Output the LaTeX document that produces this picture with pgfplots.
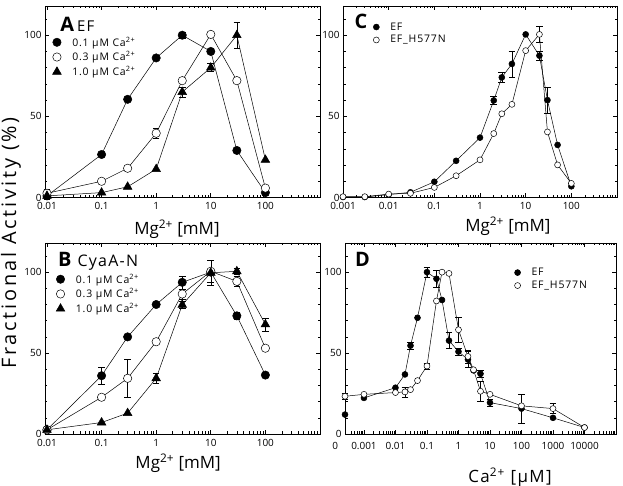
\documentclass[border=0pt]{standalone}
\usepackage{pgfplots}
\pgfplotsset{compat=1.18}
\usepackage{fontspec}
\setmainfont{Open Sans}
\newfontfamily\lsfont[LetterSpace=8]{Open Sans}
\newfontfamily\lswfont[LetterSpace=14]{Open Sans}

\pgfplotsset{
  every axis/.append style={
    scale only axis,
    ymin=0, ymax=118,
    ytick={0,50,100},
    minor ytick={10,20,30,40,60,70,80,90,110},
    tick align=inside,
    major tick length=4bp, minor tick length=2.5bp,
    axis line style={line width=0.9pt},
    tick style={black, line width=0.6pt},
    /pgf/number format/assume math mode=true,
    tick label style={font=\fontsize{10}{11}\selectfont},
    xticklabel style={yshift=-1.5bp},
    clip=false,
    legend cell align=left,
    legend style={draw=none, fill=none, inner sep=0pt, row sep=0bp, column sep=9bp,
      font=\lsfont\fontsize{10.5}{11}\selectfont},
  },
  myser/.style={black, line width=0.5pt, mark size=4.2bp},
  myfc/.style={myser, mark=*},
  myoc/.style={myser, mark=*, mark options={fill=white}},
  mytr/.style={myser, mark=triangle*, mark size=5bp},
  mysfc/.style={myser, mark=*, mark size=3bp},
  mysoc/.style={myser, mark=*, mark size=3bp, mark options={fill=white}},
  myeb/.style={black, only marks, mark=none, forget plot,
    error bars/.cd, y dir=both, y explicit,
    error bar style={line width=0.5pt},
    error mark options={rotate=90, mark size=3.3bp, line width=0.5pt}},
}

\begin{document}
\begin{tikzpicture}
\useasboundingbox (0bp,0bp) rectangle (623bp,486bp);

\node[rotate=90, font=\lswfont\fontsize{20}{20}\selectfont] at (11bp,243bp) {Fractional Activity (\%)};

% ---------------- Panel A ----------------
\begin{axis}[xmode=log, at={(45bp,288.5bp)}, anchor=south west,
  width=275bp, height=191.5bp, xmin=0.0092, xmax=1000,
  xtick={0.01,0.1,1,10,100,1000}, xticklabels={0.01,0.1,1,10,100,{}},
  minor xtick={0.02,0.03,0.04,0.05,0.06,0.07,0.08,0.09,
      0.2,0.3,0.4,0.5,0.6,0.7,0.8,0.9,2,3,4,5,6,7,8,9,
      20,30,40,50,60,70,80,90,200,300,400,500,600,700,800,900},
  legend style={at={(0.027,0.85)}, anchor=north west}]
\addlegendimage{myfc, only marks}\addlegendentry{0.1 µM Ca\textsuperscript{2+}}
\addlegendimage{myoc, only marks}\addlegendentry{0.3 µM Ca\textsuperscript{2+}}
\addlegendimage{mytr, only marks}\addlegendentry{1.0 µM Ca\textsuperscript{2+}}
\addplot[myeb] coordinates {(3,100) +- (0,2) (1,39.6) +- (0,3) (3,65) +- (0,3) (10,80) +- (0,2.5) (30,100) +- (0,8) (0.01,2) +- (0,3)};
\addplot[myfc, forget plot] coordinates {(0.01,1) (0.1,26.5) (0.3,60.5) (1,86) (3,100) (10,90) (30,29) (100,3)};
\addplot[myoc, forget plot] coordinates {(0.01,2.6) (0.1,10) (0.3,18) (1,39.6) (3,72) (10,100.5) (30,72) (100,5.8)};
\addplot[mytr, forget plot] coordinates {(0.01,1) (0.1,3) (0.3,6.6) (1,17.5) (3,65) (10,80) (30,100) (100,23.2)};
\node[anchor=base west, inner sep=0pt] at (rel axis cs:0.055,0.869) {\fontsize{20}{20}\selectfont\bfseries A\hspace{3bp}\lsfont\fontsize{15}{15}\selectfont\mdseries EF};
\node[font=\fontsize{17}{17}\selectfont] at (rel axis cs:0.48,-0.165) {Mg\textsuperscript{2+} [mM]};
\end{axis}

% ---------------- Panel C ----------------
\begin{axis}[xmode=log, at={(343bp,288.5bp)}, anchor=south west,
  width=274bp, height=191.5bp, xmin=0.001, xmax=1000,
  xtick={0.001,0.01,0.1,1,10,100,1000}, xticklabels={0.001,0.01,0.1,1,10,100,{}},
  minor xtick={0.002,0.003,0.004,0.005,0.006,0.007,0.008,0.009,
      0.02,0.03,0.04,0.05,0.06,0.07,0.08,0.09,
      0.2,0.3,0.4,0.5,0.6,0.7,0.8,0.9,2,3,4,5,6,7,8,9,
      20,30,40,50,60,70,80,90,200,300,400,500,600,700,800,900},
  legend style={at={(0.11,0.925)}, anchor=north west}]
\addlegendimage{mysfc, only marks}\addlegendentry{EF}
\addlegendimage{mysoc, only marks}\addlegendentry{EF\_H577N}
\addplot[myeb] coordinates {(2,59.8) +- (0,2.5) (3,74) +- (0,3) (5,82.3) +- (0,8) (20,87.4) +- (0,3) (30,60) +- (0,8) (20,100.5) +- (0,5)};
\addplot[mysfc, forget plot] coordinates {(0.001,0.3) (0.003,0.3) (0.01,1.8) (0.03,3.2) (0.1,9.7) (0.3,22.6) (1,36.9) (2,59.8) (3,74) (5,82.3) (10,100.5) (20,87.4) (30,60) (50,32.4) (100,6.9)};
\addplot[mysoc, forget plot] coordinates {(0.001,0.5) (0.003,0.5) (0.01,2.1) (0.03,2.6) (0.1,6.2) (0.3,13.4) (1,23.2) (2,39.4) (3,51.6) (5,57.4) (10,90.5) (20,100.5) (30,40.4) (50,20.1) (100,8.7)};
\node[anchor=base west, inner sep=0pt] at (rel axis cs:0.042,0.88) {\fontsize{20}{20}\selectfont\bfseries C};
\node[font=\fontsize{17}{17}\selectfont] at (rel axis cs:0.602,-0.149) {Mg\textsuperscript{2+} [mM]};
\end{axis}

% ---------------- Panel B ----------------
\begin{axis}[xmode=log, at={(45bp,52bp)}, anchor=south west,
  width=275bp, height=191bp, xmin=0.0092, xmax=1000,
  xtick={0.01,0.1,1,10,100,1000}, xticklabels={0.01,0.1,1,10,100,{}},
  minor xtick={0.02,0.03,0.04,0.05,0.06,0.07,0.08,0.09,
      0.2,0.3,0.4,0.5,0.6,0.7,0.8,0.9,2,3,4,5,6,7,8,9,
      20,30,40,50,60,70,80,90,200,300,400,500,600,700,800,900},
  legend style={at={(0.04,0.85)}, anchor=north west}]
\addlegendimage{myfc, only marks}\addlegendentry{0.1 µM Ca\textsuperscript{2+}}
\addlegendimage{myoc, only marks}\addlegendentry{0.3 µM Ca\textsuperscript{2+}}
\addlegendimage{mytr, only marks}\addlegendentry{1.0 µM Ca\textsuperscript{2+}}
\addplot[myeb] coordinates {(0.1,36) +- (0,5) (3,93.7) +- (0,4) (30,73) +- (0,2) (0.3,34.4) +- (0,12) (3,86.5) +- (0,3) (10,100.5) +- (0,7) (30,94.3) +- (0,3) (1,34.4) +- (0,3) (3,79.8) +- (0,2) (10,99.6) +- (0,8) (30,100.5) +- (0,2) (100,67.7) +- (0,4)};
\addplot[myfc, forget plot] coordinates {(0.01,2.6) (0.1,36) (0.3,60) (1,80) (3,93.7) (10,100) (30,73) (100,36.4)};
\addplot[myoc, forget plot] coordinates {(0.01,2.6) (0.1,22.7) (0.3,34.4) (1,57) (3,86.5) (10,100.5) (30,94.3) (100,53)};
\addplot[mytr, forget plot] coordinates {(0.01,2.6) (0.1,7.1) (0.3,12.9) (1,34.4) (3,79.8) (10,99.6) (30,100.5) (100,67.7)};
\node[anchor=base west, inner sep=0pt] at (rel axis cs:0.047,0.876) {\fontsize{20}{20}\selectfont\bfseries B\hspace{6bp}\lsfont\fontsize{16}{16}\selectfont\mdseries CyaA-N};
\node[font=\fontsize{17}{17}\selectfont] at (rel axis cs:0.484,-0.152) {Mg\textsuperscript{2+} [mM]};
\end{axis}

% ---------------- Panel D ----------------
\begin{axis}[xmode=log, at={(345bp,52bp)}, anchor=south west,
  width=271bp, height=191bp, xmin=0.00025, xmax=100000,
  xtick={0.00025,0.001,0.01,0.1,1,10,100,1000,10000,100000},
  xticklabels={\hbox to 0pt{\hss 0\hspace{7bp}},0.001,0.01,0.1,1,10,100,1000,10000,{}},
  minor xtick={0.0004,0.0005,0.0006,0.0007,0.0008,0.0009,
      0.002,0.003,0.004,0.005,0.006,0.007,0.008,0.009,
      0.02,0.03,0.04,0.05,0.06,0.07,0.08,0.09,
      0.2,0.3,0.4,0.5,0.6,0.7,0.8,0.9,2,3,4,5,6,7,8,9,
      20,30,40,50,60,70,80,90,200,300,400,500,600,700,800,900,
      2000,3000,4000,5000,6000,7000,8000,9000,
      20000,30000,40000,50000,60000,70000,80000,90000},
  xticklabel style={yshift=-3bp},
  legend style={at={(0.625,0.88)}, anchor=north west}]
\addlegendimage{mysfc, only marks}\addlegendentry{EF}
\addlegendimage{mysoc, only marks}\addlegendentry{EF\_H577N}
\addplot[myeb] coordinates {(0.03,54.6) +- (0,2) (0.1,100) +- (0,3) (0.2,95.9) +- (0,5) (0.5,57.7) +- (0,5) (1,50.9) +- (0,2) (2,46) +- (0,5) (5,37.2) +- (0,2) (10,19.4) +- (0,2) (100,15.7) +- (0,9)
  (0.00025,23.3) +- (0,2) (0.02,26) +- (0,3) (0.1,42) +- (0,2) (1,64.4) +- (0,8) (2,47.9) +- (0,4) (5,26.4) +- (0,6) (1000,15.7) +- (0,3)};
\addplot[mysfc, only marks, forget plot] coordinates {(0.00025,12)};
\addplot[mysfc, forget plot] coordinates {(0.001,22.3) (0.01,28.6) (0.02,36.8) (0.03,54.6) (0.05,71.8) (0.1,100) (0.2,95.9) (0.3,82.8) (0.5,57.7) (1,50.9) (2,46) (3,39.3) (5,37.2) (10,19.4) (100,15.7) (1000,10) (10000,4)};
\addplot[mysoc, forget plot] coordinates {(0.00025,23.3) (0.001,24.5) (0.01,25.6) (0.02,26) (0.03,27.4) (0.05,33) (0.1,42) (0.2,82.2) (0.3,100) (0.5,99.2) (1,64.4) (2,47.9) (3,39.7) (5,26.4) (10,24.5) (100,17.4) (1000,15.7) (10000,4)};
\node[anchor=base west, inner sep=0pt] at (rel axis cs:0.037,0.876) {\fontsize{20}{20}\selectfont\bfseries D};
\node[font=\lsfont\fontsize{17}{17}\selectfont] at (rel axis cs:0.609,-0.225) {Ca\textsuperscript{2+} [µM]};
\end{axis}
\end{tikzpicture}
\end{document}
